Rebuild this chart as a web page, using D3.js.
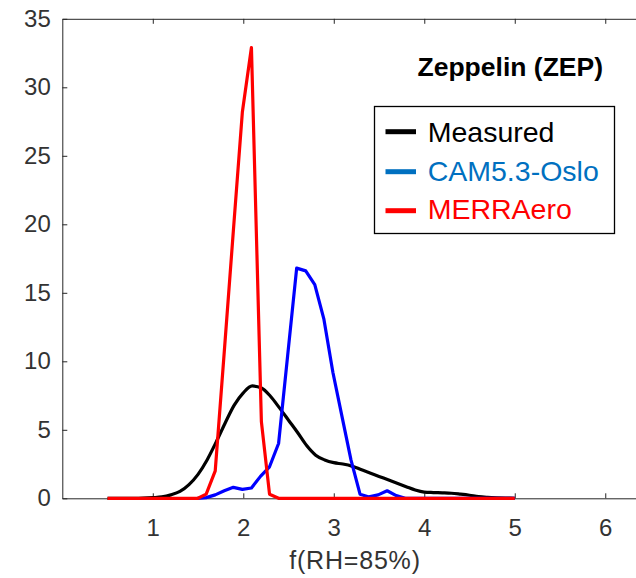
<!DOCTYPE html>
<html>
<head>
<meta charset="utf-8">
<script src="https://cdn.jsdelivr.net/npm/d3@7"></script>
<style>
  html, body { margin: 0; padding: 0; background: #fff; }
  svg { display: block; font-family: "Liberation Sans", Arial, sans-serif; }
</style>
</head>
<body>
<svg id="chart" width="636" height="578"></svg>
<script>
// Distribution of f(RH=85%) at Zeppelin: measured vs. two models
const measuredX = [0.5, 0.8, 1.0, 1.1, 1.2, 1.3, 1.4, 1.5, 1.6, 1.7, 1.8, 1.9, 2.0, 2.1, 2.2, 2.3, 2.4, 2.5, 2.6, 2.7, 2.8, 2.9, 3.0, 3.1, 3.2, 3.3, 3.4, 3.5, 3.6, 3.7, 3.8, 3.9, 4.0, 4.1, 4.2, 4.3, 4.4, 4.5, 4.6, 4.7, 4.8, 4.9, 5.0];
const measuredY = [0, 0, 0.05, 0.1, 0.25, 0.5, 1.0, 1.75, 2.8, 4.1, 5.5, 6.8, 7.7, 8.2, 8.05, 7.45, 6.6, 5.7, 4.8, 3.85, 3.15, 2.8, 2.6, 2.5, 2.35, 2.1, 1.85, 1.6, 1.35, 1.1, 0.85, 0.6, 0.45, 0.42, 0.4, 0.37, 0.3, 0.22, 0.12, 0.07, 0.04, 0.02, 0];

const camX = [1.49, 1.59, 1.69, 1.79, 1.89, 1.99, 2.09, 2.19, 2.29, 2.39, 2.49, 2.59, 2.69, 2.79, 2.89, 2.99, 3.09, 3.19, 3.29, 3.39, 3.49, 3.59, 3.69, 3.79, 5.0];
const camY = [0, 0.05, 0.25, 0.55, 0.8, 0.65, 0.75, 1.6, 2.3, 4.0, 10.4, 16.8, 16.6, 15.6, 13.1, 9.2, 6.0, 2.8, 0.3, 0.1, 0.25, 0.55, 0.2, 0, 0];

const merraX = [0.5, 1.5, 1.59, 1.69, 1.79, 1.89, 1.99, 2.09, 2.2, 2.29, 2.39, 5.0];
const merraY = [0, 0, 0.3, 2.0, 10.7, 19.5, 28.2, 32.9, 5.6, 0.3, 0, 0];

const xTicks = [1, 2, 3, 4, 5, 6];
const yTicks = [0, 5, 10, 15, 20, 25, 30, 35];

const seriesNames = ["Measured", "CAM5.3-Oslo", "MERRAero"];
const lineColors = ["#000000", "#0000FF", "#FF0000"];
const legendColors = ["#000000", "#0070C0", "#FF0000"];

const titleText = "Zeppelin (ZEP)";
const xLabel = "f(RH=85%)";

const svg = d3.select("#chart");

const x = d3.scaleLinear().domain([0, 6.5]).range([62.3, 650.5]);
const y = d3.scaleLinear().domain([0, 35]).range([498.3, 18.8]);

const axisColor = "#262626";
const labelColor = "#333333";

function styleAxis(g) {
  g.select(".domain").attr("stroke", axisColor).attr("stroke-width", 1);
  g.selectAll(".tick line").attr("stroke", axisColor).attr("stroke-width", 1);
  g.selectAll(".tick text").attr("fill", labelColor).attr("font-size", 24)
    .attr("font-family", "'Liberation Sans', Arial, sans-serif");
}

// bottom axis
svg.append("g")
  .attr("transform", `translate(0,${y(0)})`)
  .call(d3.axisBottom(x).tickValues(xTicks).tickFormat(d3.format("d"))
    .tickSizeInner(-5).tickSizeOuter(0).tickPadding(21))
  .call(styleAxis);

// top axis (ticks only)
svg.append("g")
  .attr("transform", `translate(0,${y(35)})`)
  .call(d3.axisTop(x).tickValues(xTicks).tickFormat("")
    .tickSizeInner(-5).tickSizeOuter(0))
  .call(styleAxis);

// left axis
svg.append("g")
  .attr("transform", `translate(${x(0)},0)`)
  .call(d3.axisLeft(y).tickValues(yTicks).tickFormat(d3.format("d"))
    .tickSizeInner(-5).tickSizeOuter(0).tickPadding(11.5))
  .call(styleAxis);

// data lines
const series = [
  { xs: measuredX, ys: measuredY, curve: d3.curveMonotoneX },
  { xs: camX, ys: camY, curve: d3.curveLinear },
  { xs: merraX, ys: merraY, curve: d3.curveLinear }
];

series.forEach((s, i) => {
  const pts = s.xs.map((v, k) => [v, s.ys[k]]);
  const line = d3.line().x(d => x(d[0])).y(d => y(d[1])).curve(s.curve);
  svg.append("path")
    .datum(pts)
    .attr("d", line)
    .attr("fill", "none")
    .attr("stroke", lineColors[i])
    .attr("stroke-width", 3.2)
    .attr("stroke-linejoin", "round");
});

// x-axis label
svg.append("text")
  .attr("x", 355)
  .attr("y", 569)
  .attr("text-anchor", "middle")
  .attr("font-size", 25)
  .attr("letter-spacing", 0.8)
  .attr("fill", labelColor)
  .text(xLabel);

// title
svg.append("text")
  .attr("x", 603)
  .attr("y", 76)
  .attr("text-anchor", "end")
  .attr("font-size", 26.5)
  .attr("font-weight", "bold")
  .attr("fill", "#000")
  .text(titleText);

// legend
const legend = svg.append("g");
legend.append("rect")
  .attr("x", 374.5).attr("y", 106.5)
  .attr("width", 240).attr("height", 127)
  .attr("fill", "#fff")
  .attr("stroke", "#000")
  .attr("stroke-width", 1.3);

const rowLine = [131.7, 171.7, 210.7];
const rowBase = [141.7, 180.5, 218.5];
seriesNames.forEach((name, i) => {
  legend.append("line")
    .attr("x1", 385.5).attr("x2", 416)
    .attr("y1", rowLine[i]).attr("y2", rowLine[i])
    .attr("stroke", legendColors[i])
    .attr("stroke-width", 5);
  legend.append("text")
    .attr("x", 427.7)
    .attr("y", rowBase[i])
    .attr("font-size", 28.5)
    .attr("fill", legendColors[i])
    .text(name);
});
</script>
</body>
</html>
